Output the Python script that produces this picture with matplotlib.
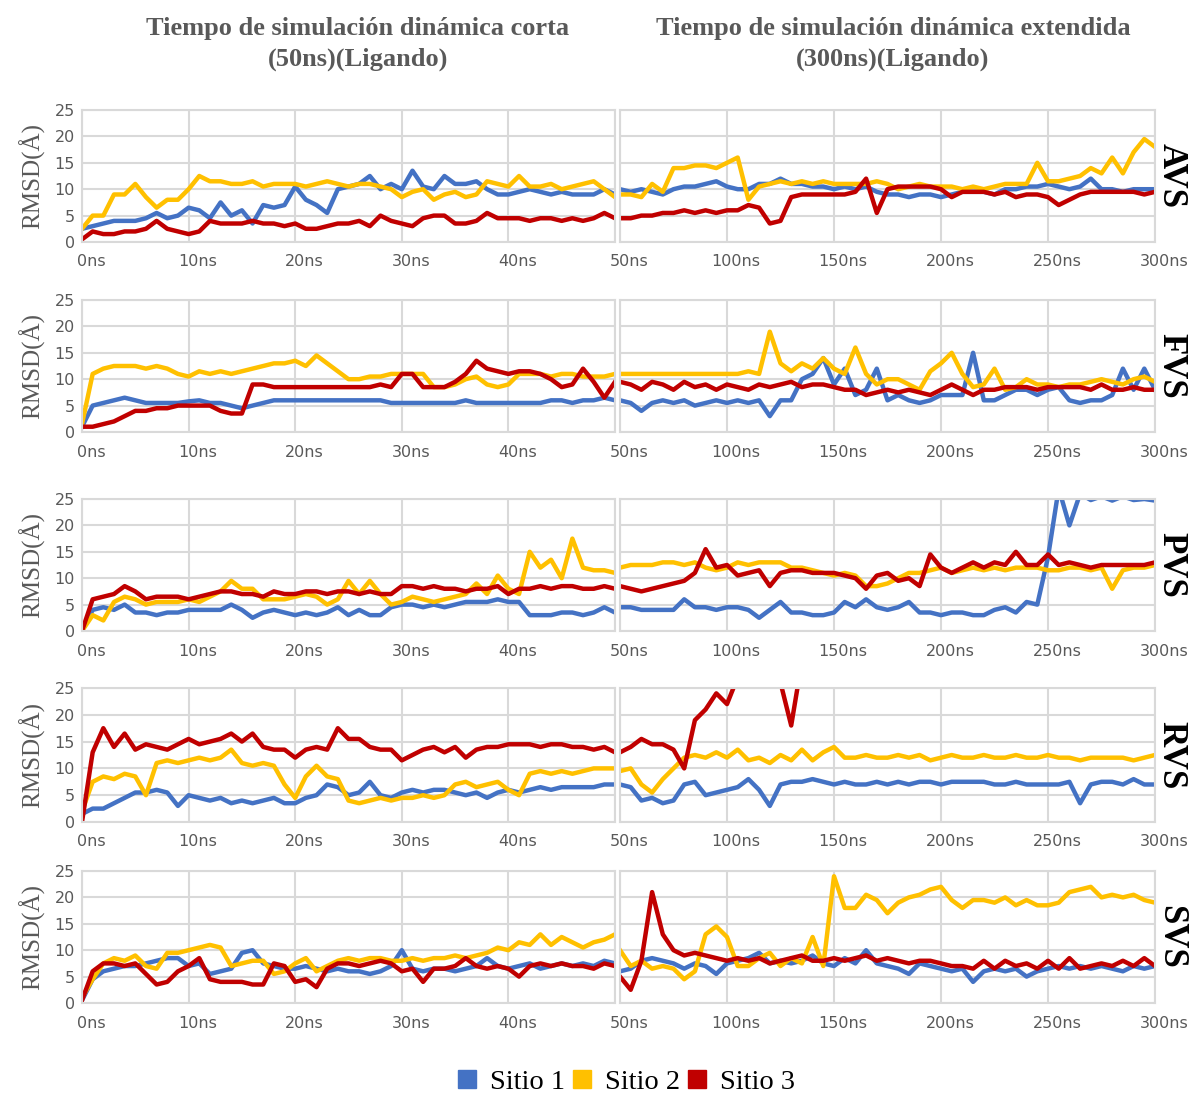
import numpy as np
import matplotlib.pyplot as plt
from matplotlib.lines import Line2D
from matplotlib.transforms import ScaledTranslation

# tiempos de muestreo (ns)
t_corta = np.arange(0, 51, 1)
t_larga = np.arange(50, 301, 5)

sistemas = ["AVS", "FVS", "PVS", "RVS", "SVS"]
sitios = ["Sitio 1", "Sitio 2", "Sitio 3"]
colores = ["#4472C4", "#FFC000", "#C00000"]

# ---------------- AVS ----------------
avs_corta_s1 = [2.5, 3, 3.5, 4, 4, 4, 4.5, 5.5, 4.5, 5, 6.5, 6, 4.5, 7.5, 5, 6, 3.5, 7, 6.5, 7,
                10.5, 8, 7, 5.5, 10, 10.5, 11, 12.5, 10, 11, 10, 13.5, 10.5, 10, 12.5, 11, 11, 11.5, 10, 9,
                9, 9.5, 10, 9.5, 9, 9.5, 9, 9, 9, 10, 9]
avs_corta_s2 = [2.5, 5, 5, 9, 9, 11, 8.5, 6.5, 8, 8, 10, 12.5, 11.5, 11.5, 11, 11, 11.5, 10.5, 11, 11,
                11, 10.5, 11, 11.5, 11, 10.5, 11, 11, 10.5, 10, 8.5, 9.5, 10, 8, 9, 9.5, 8.5, 9, 11.5, 11,
                10.5, 12.5, 10.5, 10.5, 11, 10, 10.5, 11, 11.5, 10, 8.5]
avs_corta_s3 = [0.5, 2, 1.5, 1.5, 2, 2, 2.5, 4, 2.5, 2, 1.5, 2, 4, 3.5, 3.5, 3.5, 4, 3.5, 3.5, 3,
                3.5, 2.5, 2.5, 3, 3.5, 3.5, 4, 3, 5, 4, 3.5, 3, 4.5, 5, 5, 3.5, 3.5, 4, 5.5, 4.5,
                4.5, 4.5, 4, 4.5, 4.5, 4, 4.5, 4, 4.5, 5.5, 4.5]
avs_larga_s1 = [10, 9.5, 10, 9.5, 9, 10, 10.5, 10.5, 11, 11.5, 10.5, 10, 10, 11, 11, 12, 11, 11, 10.5, 10.5,
                10, 10.5, 10, 10.5, 9.5, 9, 9, 8.5, 9, 9, 8.5, 9, 9.5, 9.5, 9.5, 9, 10, 10, 10.5, 10.5,
                11, 10.5, 10, 10.5, 12, 10, 10, 9.5, 10, 10, 10]
avs_larga_s2 = [9, 9, 8.5, 11, 9.5, 14, 14, 14.5, 14.5, 14, 15, 16, 8, 10.5, 11, 11.5, 11, 11.5, 11, 11.5,
                11, 11, 11, 11, 11.5, 11, 10, 10.5, 11, 10.5, 10.5, 10.5, 10, 10.5, 10, 10.5, 11, 11, 11, 15,
                11.5, 11.5, 12, 12.5, 14, 13, 16, 13, 17, 19.5, 18]
avs_larga_s3 = [4.5, 4.5, 5, 5, 5.5, 5.5, 6, 5.5, 6, 5.5, 6, 6, 7, 6.5, 3.5, 4, 8.5, 9, 9, 9,
                9, 9, 9.5, 12, 5.5, 10, 10.5, 10.5, 10.5, 10.5, 10, 8.5, 9.5, 9.5, 9.5, 9, 9.5, 8.5, 9, 9,
                8.5, 7, 8, 9, 9.5, 9.5, 9.5, 9.5, 9.5, 9, 9.5]

# ---------------- FVS ----------------
fvs_corta_s1 = [1, 5, 5.5, 6, 6.5, 6, 5.5, 5.5, 5.5, 5.5, 5.8, 6, 5.5, 5.5, 5, 4.5, 5, 5.5, 6, 6,
                6, 6, 6, 6, 6, 6, 6, 6, 6, 5.5, 5.5, 5.5, 5.5, 5.5, 5.5, 5.5, 6, 5.5, 5.5, 5.5,
                5.5, 5.5, 5.5, 5.5, 6, 6, 5.5, 6, 6, 6.5, 6]
fvs_corta_s2 = [1.5, 11, 12, 12.5, 12.5, 12.5, 12, 12.5, 12, 11, 10.5, 11.5, 11, 11.5, 11, 11.5, 12, 12.5, 13, 13,
                13.5, 12.5, 14.5, 13, 11.5, 10, 10, 10.5, 10.5, 11, 11, 11, 11, 8.5, 8.5, 9, 10, 10.5, 9, 8.5,
                9, 11, 11, 11, 10.5, 11, 11, 10.5, 10.5, 10.5, 11]
fvs_corta_s3 = [1, 1, 1.5, 2, 3, 4, 4, 4.5, 4.5, 5, 5, 5, 5, 4, 3.5, 3.5, 9, 9, 8.5, 8.5,
                8.5, 8.5, 8.5, 8.5, 8.5, 8.5, 8.5, 8.5, 9, 8.5, 11, 11, 8.5, 8.5, 8.5, 9.5, 11, 13.5, 12, 11.5,
                11, 11.5, 11.5, 11, 10, 8.5, 9, 12, 9.5, 6.5, 9.5]
fvs_larga_s1 = [6, 5.5, 4, 5.5, 6, 5.5, 6, 5, 5.5, 6, 5.5, 6, 5.5, 6, 3, 6, 6, 10, 11, 14,
                9, 12, 7, 8, 12, 6, 7, 6, 5.5, 6, 7, 7, 7, 15, 6, 6, 7, 8, 8, 7,
                8, 8.5, 6, 5.5, 6, 6, 7, 12, 8, 12, 8]
fvs_larga_s2 = [11, 11, 11, 11, 11, 11, 11, 11, 11, 11, 11, 11, 11.5, 11, 19, 13, 11.5, 13, 12, 14,
                12, 11, 16, 11, 9, 10, 10, 9, 8, 11.5, 13, 15, 11, 8.5, 9, 12, 8, 8.5, 10, 9,
                9, 8.5, 9, 9, 9.5, 10, 9.5, 9, 10, 10.5, 9.5]
fvs_larga_s3 = [9.5, 9, 8, 9.5, 9, 8, 9.5, 8.5, 9, 8, 9, 8.5, 8, 9, 8.5, 9, 9.5, 8.5, 9, 9,
                8.5, 8, 8, 7, 7.5, 8, 7.5, 8, 7.5, 7, 8, 9, 8, 7, 8, 8, 8.5, 8.5, 8.5, 8,
                8.5, 8.5, 8.5, 8.5, 8, 9, 8, 8, 8.5, 8, 8]

# ---------------- PVS ----------------
pvs_corta_s1 = [0, 4, 4.5, 4, 5, 3.5, 3.5, 3, 3.5, 3.5, 4, 4, 4, 4, 5, 4, 2.5, 3.5, 4, 3.5,
                3, 3.5, 3, 3.5, 4.5, 3, 4, 3, 3, 4.5, 5, 5, 4.5, 5, 4.5, 5, 5.5, 5.5, 5.5, 6,
                5.5, 5.5, 3, 3, 3, 3.5, 3.5, 3, 3.5, 4.5, 3.5]
pvs_corta_s2 = [0, 3, 2, 5.5, 6.5, 6, 5, 5.5, 5.5, 5.5, 6, 5.5, 6.5, 7.5, 9.5, 8, 8, 6, 6, 6,
                6.5, 7, 6.5, 5, 6, 9.5, 7, 9.5, 7, 5, 5.5, 6.5, 6, 5.5, 6, 6.5, 7, 9, 7, 10.5,
                8, 7, 15, 12, 13.5, 10, 17.5, 12, 11.5, 11.5, 11]
pvs_corta_s3 = [0, 6, 6.5, 7, 8.5, 7.5, 6, 6.5, 6.5, 6.5, 6, 6.5, 7, 7.5, 7.5, 7, 7, 6.5, 7.5, 7,
                7, 7.5, 7.5, 7, 7.5, 7.5, 7, 7.5, 7, 7, 8.5, 8.5, 8, 8.5, 8, 8, 7.5, 8, 8, 8.5,
                7, 8, 8, 8.5, 8, 8.5, 8.5, 8, 8, 8.5, 8]
pvs_larga_s1 = [4.5, 4.5, 4, 4, 4, 4, 6, 4.5, 4.5, 4, 4.5, 4.5, 4, 2.5, 4, 5.5, 3.5, 3.5, 3, 3,
                3.5, 5.5, 4.5, 6, 4.5, 4, 4.5, 5.5, 3.5, 3.5, 3, 3.5, 3.5, 3, 3, 4, 4.5, 3.5, 5.5, 5,
                14, 27, 20, 26, 24.8, 25.5, 24.7, 25.5, 24.8, 25, 24.7]
pvs_larga_s2 = [12, 12.5, 12.5, 12.5, 13, 13, 12.5, 13, 12, 11.5, 12, 13, 12.5, 13, 13, 13, 12, 12, 11.5, 11,
                10.5, 11, 10.5, 8.5, 8.5, 9, 10, 11, 11, 11.5, 12, 11, 11.5, 12, 11.5, 12, 11.5, 12, 12, 12,
                11.5, 11.5, 12, 12, 11.5, 12, 8, 11.5, 12, 12, 12.5]
pvs_larga_s3 = [8.5, 8, 7.5, 8, 8.5, 9, 9.5, 11, 15.5, 12, 12.5, 10.5, 11, 11.5, 8.5, 11, 11.5, 11.5, 11, 11,
                11, 10.5, 10, 8, 10.5, 11, 9.5, 10, 8.5, 14.5, 12, 11, 12, 13, 12, 13, 12.5, 15, 12.5, 12.5,
                14.5, 12.5, 13, 12.5, 12, 12.5, 12.5, 12.5, 12.5, 12.5, 13]

# ---------------- RVS ----------------
rvs_corta_s1 = [1.5, 2.5, 2.5, 3.5, 4.5, 5.5, 5.5, 6, 5.5, 3, 5, 4.5, 4, 4.5, 3.5, 4, 3.5, 4, 4.5, 3.5,
                3.5, 4.5, 5, 7, 6.5, 5, 5.5, 7.5, 5, 4.5, 5.5, 6, 5.5, 6, 6, 5.5, 5, 5.5, 4.5, 5.5,
                6, 5.5, 6, 6.5, 6, 6.5, 6.5, 6.5, 6.5, 7, 7]
rvs_corta_s2 = [2, 7.5, 8.5, 8, 9, 8.5, 5, 11, 11.5, 11, 11.5, 12, 11.5, 12, 13.5, 11, 10.5, 11, 10.5, 7,
                4.5, 8.5, 10.5, 8.5, 8, 4, 3.5, 4, 4.5, 4, 4.5, 4.5, 5, 4.5, 5, 7, 7.5, 6.5, 7, 7.5,
                6, 5, 9, 9.5, 9, 9.5, 9, 9.5, 10, 10, 10]
rvs_corta_s3 = [0, 13, 17.5, 14, 16.5, 13.5, 14.5, 14, 13.5, 14.5, 15.5, 14.5, 15, 15.5, 16.5, 15, 16.5, 14, 13.5, 13.5,
                12, 13.5, 14, 13.5, 17.5, 15.5, 15.5, 14, 13.5, 13.5, 11.5, 12.5, 13.5, 14, 13, 14, 12, 13.5, 14, 14,
                14.5, 14.5, 14.5, 14, 14.5, 14.5, 14, 14, 13.5, 14, 13]
rvs_larga_s1 = [7, 6.5, 4, 4.5, 3.5, 4, 7, 7.5, 5, 5.5, 6, 6.5, 8, 6, 3, 7, 7.5, 7.5, 8, 7.5,
                7, 7.5, 7, 7, 7.5, 7, 7.5, 7, 7.5, 7.5, 7, 7.5, 7.5, 7.5, 7.5, 7, 7, 7.5, 7, 7,
                7, 7, 7.5, 3.5, 7, 7.5, 7.5, 7, 8, 7, 7]
rvs_larga_s2 = [9.5, 10, 7, 5.5, 8, 10, 12, 12.5, 12, 13, 12, 13.5, 11.5, 12, 11, 12.5, 11.5, 13.5, 11.5, 13,
                14, 12, 12, 12.5, 12, 12, 12.5, 12, 12.5, 11.5, 12, 12.5, 12, 12, 12.5, 12, 12, 12.5, 12, 12,
                12.5, 12, 12, 11.5, 12, 12, 12, 12, 11.5, 12, 12.5]
rvs_larga_s3 = [13, 14, 15.5, 14.5, 14.5, 13.5, 10, 19, 21, 24, 22, 27, 30, 30, 30, 26, 18, 30, 30, 30,
                30, 30, 30, 30, 30, 30, 30, 30, 30, 30, 30, 30, 30, 30, 30, 30, 30, 30, 30, 30,
                30, 30, 30, 30, 30, 30, 30, 30, 30, 30, 30]

# ---------------- SVS ----------------
svs_corta_s1 = [0.5, 4.5, 6, 6.5, 7, 7, 7.5, 8, 8.5, 8.5, 7, 7.5, 5.5, 6, 6.5, 9.5, 10, 7.5, 7, 6.5,
                6.5, 7, 6.5, 6, 6.5, 6, 6, 5.5, 6, 7, 10, 6.5, 6, 6.5, 6.5, 6, 6.5, 7, 8.5, 7,
                6.5, 7, 7.5, 6.5, 7, 7.5, 7, 7.5, 7, 8, 7.5]
svs_corta_s2 = [1, 4.5, 7.5, 8.5, 8, 9, 7, 6.5, 9.5, 9.5, 10, 10.5, 11, 10.5, 7, 7.5, 8, 8, 5.5, 6,
                7.5, 8.5, 6, 7, 8, 8.5, 8, 8.5, 8.5, 8, 8, 8.5, 8, 8.5, 8.5, 9, 8.5, 9, 9.5, 10.5,
                10, 11.5, 11, 13, 11, 12.5, 11.5, 10.5, 11.5, 12, 13]
svs_corta_s3 = [0.5, 6, 7.5, 7.5, 7, 7.5, 5.5, 3.5, 4, 6, 7, 8.5, 4.5, 4, 4, 4, 3.5, 3.5, 7.5, 7,
                4, 4.5, 3, 6.5, 7.5, 7.5, 7, 7.5, 8, 7.5, 6, 6.5, 4, 6.5, 6.5, 7, 8.5, 7, 6.5, 7,
                6.5, 5, 7, 7.5, 7, 7.5, 7, 7, 6.5, 7.5, 7]
svs_larga_s1 = [6, 6.5, 8, 8.5, 8, 7.5, 6.5, 7.5, 7, 5.5, 7.5, 8, 8.5, 9.5, 7.5, 8, 7.5, 8, 9, 7.5,
                7, 8.5, 7.5, 10, 7.5, 7, 6.5, 5.5, 7.5, 7, 6.5, 6, 6.5, 4, 6, 6.5, 6, 6.5, 5, 6,
                6.5, 7, 6.5, 7, 6.5, 7, 6.5, 6, 7, 6.5, 7]
svs_larga_s2 = [10, 7, 8, 6.5, 7, 6.5, 4.5, 6, 13, 14.5, 12.5, 7, 7, 8.5, 9.5, 7, 8.5, 7.5, 12.5, 7,
                24, 18, 18, 20.5, 19.5, 17, 19, 20, 20.5, 21.5, 22, 19.5, 18, 19.5, 19.5, 19, 20, 18.5, 19.5, 18.5,
                18.5, 19, 21, 21.5, 22, 20, 20.5, 20, 20.5, 19.5, 19]
svs_larga_s3 = [5, 2.5, 8, 21, 13, 10, 9, 9.5, 9, 8.5, 8, 8.5, 8, 8.5, 7.5, 8, 8.5, 9, 8, 8,
                8.5, 8, 8.5, 9, 8, 8.5, 8, 7.5, 8, 8, 7.5, 7, 7, 6.5, 8, 6.5, 8, 7, 7.5, 6.5,
                8, 6.5, 8.5, 6.5, 7, 7.5, 7, 8, 7, 8.5, 7]

corta = {
    "AVS": [avs_corta_s1, avs_corta_s2, avs_corta_s3],
    "FVS": [fvs_corta_s1, fvs_corta_s2, fvs_corta_s3],
    "PVS": [pvs_corta_s1, pvs_corta_s2, pvs_corta_s3],
    "RVS": [rvs_corta_s1, rvs_corta_s2, rvs_corta_s3],
    "SVS": [svs_corta_s1, svs_corta_s2, svs_corta_s3],
}
larga = {
    "AVS": [avs_larga_s1, avs_larga_s2, avs_larga_s3],
    "FVS": [fvs_larga_s1, fvs_larga_s2, fvs_larga_s3],
    "PVS": [pvs_larga_s1, pvs_larga_s2, pvs_larga_s3],
    "RVS": [rvs_larga_s1, rvs_larga_s2, rvs_larga_s3],
    "SVS": [svs_larga_s1, svs_larga_s2, svs_larga_s3],
}

W, H = 1194, 1093
fig = plt.figure(figsize=(W / 100, H / 100), dpi=100)

GRIS = "#595959"
REJILLA = "#D9D9D9"
SANS = ["Liberation Sans Narrow", "DejaVu Sans"]
SERIF = ["Liberation Serif", "DejaVu Serif"]
LW = 3.2

# filas: (arriba, abajo) en pixeles
filas = [(110, 242), (300, 432), (499, 631), (688, 822), (871, 1003)]


def px_axes(l, t, r, b):
    return fig.add_axes([l / W, 1 - b / H, (r - l) / W, (b - t) / H])


def estilo(ax):
    ax.set_ylim(0, 25)
    ax.set_yticks(range(0, 26, 5))
    ax.grid(True, color=REJILLA, lw=1.5)
    ax.set_axisbelow(True)
    for s in ax.spines.values():
        s.set_color(REJILLA)
        s.set_linewidth(1.5)
    ax.tick_params(length=0, colors=GRIS, labelsize=11.5, pad=9)
    ax.tick_params(axis="y", pad=5)
    for lab in ax.get_xticklabels() + ax.get_yticklabels():
        lab.set_family(SANS)
    off = ScaledTranslation(9 / 100, 0, fig.dpi_scale_trans)
    for lab in ax.get_xticklabels():
        lab.set_transform(lab.get_transform() + off)


for sis, (top, bot) in zip(sistemas, filas):
    # corta
    ax = px_axes(82, top, 615, bot)
    for y, c in zip(corta[sis], colores):
        ax.plot(t_corta, y, color=c, lw=LW, solid_joinstyle="round")
    ax.set_xlim(0, 50)
    ax.set_xticks(range(0, 51, 10))
    ax.set_xticklabels([f"{v}ns" for v in range(0, 41, 10)] + [""])
    estilo(ax)
    ax.set_ylabel("RMSD(Å)", family=SERIF, fontsize=18, color=GRIS, labelpad=7)

    # extendida
    ax2 = px_axes(620, top, 1155, bot)
    for y, c in zip(larga[sis], colores):
        ax2.plot(t_larga, y, color=c, lw=LW, solid_joinstyle="round")
    ax2.set_xlim(50, 300)
    ax2.set_xticks(range(50, 301, 50))
    ax2.set_xticklabels([f"{v}ns" for v in range(50, 301, 50)])
    estilo(ax2)
    ax2.set_yticklabels([])
    fig.text(1171 / W, 1 - (top + bot) / 2 / H, sis, rotation=270,
             ha="center", va="center", family=SERIF, fontsize=25,
             fontweight="bold", color="black")

fig.text(358 / W, 1 - 44 / H, "Tiempo de simulación dinámica corta\n(50ns)(Ligando)",
         ha="center", va="center", family=SERIF, fontsize=19, fontweight="bold",
         color=GRIS, linespacing=1.4)
fig.text(893 / W, 1 - 44 / H, "Tiempo de simulación dinámica extendida\n(300ns)(Ligando)",
         ha="center", va="center", family=SERIF, fontsize=19, fontweight="bold",
         color=GRIS, linespacing=1.4)

handles = [Line2D([], [], ls="none", marker="s", markersize=13, color=c) for c in colores]
fig.legend(handles, sitios, loc="center", bbox_to_anchor=(624 / W, 1 - 1082 / H),
           ncol=3, frameon=False, prop={"family": SERIF, "size": 20.5},
           handletextpad=0.3, columnspacing=0.1, handlelength=1.0)

fig.savefig("out.png", dpi=100)
